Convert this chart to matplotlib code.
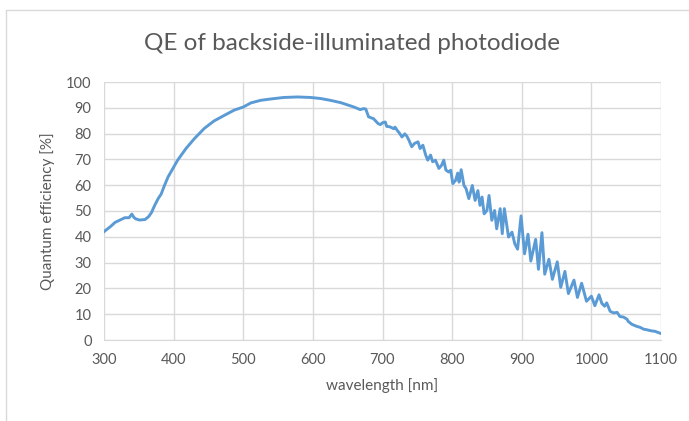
import matplotlib
matplotlib.use("Agg")
import matplotlib.pyplot as plt
from matplotlib.patches import Rectangle

plt.rcParams['font.family'] = ['Lato', 'DejaVu Sans']

title = "QE of backside-illuminated photodiode"
x_label = "wavelength [nm]"
y_label = "Quantum efficiency [%]"

wavelength = [300, 309, 316, 323, 330, 336, 340, 343, 346, 351, 359, 364, 368, 373, 378, 382, 387, 392, 398,
              406, 418, 430, 444, 458, 473, 487, 500, 511, 525, 539, 558, 578, 597, 611, 625, 640, 649, 659,
              668, 673, 676, 680, 687, 694, 697, 700, 704, 706, 711, 716, 718, 721, 724, 728, 732, 735, 738,
              742, 746, 751, 754, 758, 762, 765, 769, 772, 776, 781, 785, 788, 791, 795, 798, 801, 805, 808,
              810, 813, 817, 820, 824, 829, 833, 837, 840, 843, 846, 850, 853, 857, 861, 864, 869, 872, 875,
              881, 886, 890, 894, 899, 904, 909, 913, 920, 924, 929, 933, 939, 944, 951, 956, 962, 967, 975,
              980, 986, 993, 1000, 1005, 1011, 1015, 1019, 1022, 1027, 1032, 1037, 1041, 1046, 1051, 1053,
              1058, 1065, 1070, 1075, 1079, 1087, 1091, 1100]
qe = [42.0, 43.9, 45.6, 46.5, 47.4, 47.4, 48.8, 47.5, 46.9, 46.5, 46.7, 47.8, 49.3, 52.3, 54.9, 56.5, 60.0, 63.2, 66.0,
      69.8, 74.3, 78.1, 82.0, 84.9, 87.1, 89.1, 90.3, 91.9, 92.9, 93.4, 94.0, 94.2, 94.0, 93.6, 92.9, 92.0, 91.2, 90.3,
      89.3, 89.7, 89.5, 86.5, 85.8, 83.8, 83.5, 84.2, 84.5, 82.8, 82.6, 81.9, 82.5, 81.3, 80.3, 78.7, 79.9, 79.0, 77.4,
      74.9, 76.2, 76.8, 74.2, 75.5, 71.7, 69.7, 71.7, 69.1, 69.7, 66.5, 67.8, 69.7, 65.9, 65.1, 65.8, 60.6, 61.9, 64.7,
      61.2, 66.0, 59.9, 58.7, 54.8, 59.9, 54.1, 57.9, 52.2, 55.4, 48.9, 50.2, 56.0, 46.4, 50.2, 43.1, 50.9, 41.2, 50.9,
      39.9, 41.8, 37.3, 35.2, 48.1, 33.4, 41.0, 30.6, 39.0, 27.4, 41.6, 25.5, 31.3, 23.5, 30.3, 20.4, 26.6, 18.0, 23.2,
      16.5, 22.0, 15.0, 17.0, 13.3, 17.5, 14.2, 13.1, 14.4, 11.1, 10.5, 10.7, 9.1, 8.9, 8.1, 7.2,
      6.1, 5.3, 4.9, 4.2, 4.0, 3.5, 3.4, 2.5]
x_ticks = [300, 400, 500, 600, 700, 800, 900, 1000, 1100]
y_ticks = [0, 10, 20, 30, 40, 50, 60, 70, 80, 90, 100]

W, H = 689, 421
fig = plt.figure(figsize=(W / 100, H / 100), dpi=100)
fig.patches.append(Rectangle((6 / W, -0.05), 1.0, (421 - 10) / H + 0.05, transform=fig.transFigure,
                             fill=False, edgecolor='#d9d9d9', linewidth=1.0))

ax = fig.add_axes([104 / W, (H - 340) / H, (661 - 104) / W, (340 - 82) / H])
ax.plot(wavelength, qe, color='#5b9bd5', linewidth=2.1, solid_joinstyle='round')
ax.set_xlim(300, 1100)
ax.set_ylim(0, 100)
ax.set_xticks(x_ticks)
ax.set_yticks(y_ticks)
ax.grid(True, color='#d9d9d9', linewidth=1.0)
ax.set_axisbelow(True)
for s in ['top', 'right', 'left']:
    ax.spines[s].set_visible(False)
ax.spines['bottom'].set_color('#d9d9d9')
ax.tick_params(length=0, colors='#595959', labelsize=10.5, pad=9)
ax.set_xlabel(x_label, color='#595959', fontsize=11, labelpad=8)
ax.set_ylabel(y_label, color='#595959', fontsize=11, labelpad=8)
fig.text(352 / W, 1 - 43 / H, title, ha='center', va='center', color='#595959', fontsize=17.5)

fig.savefig('out.png', dpi=100)
